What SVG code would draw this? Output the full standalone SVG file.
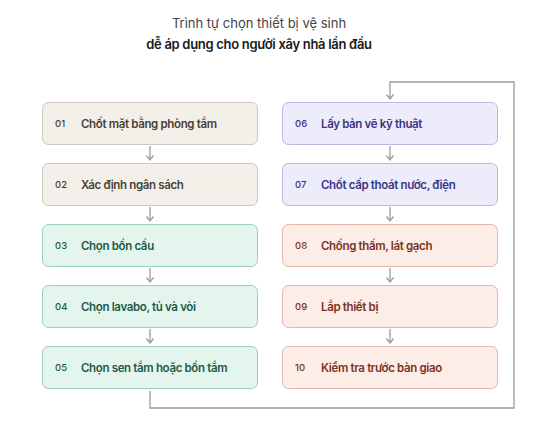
<svg xmlns="http://www.w3.org/2000/svg" width="537" height="425" viewBox="0 0 537 425">
<style>
  .t1{font-family:Inter,"Noto Sans",sans-serif;font-size:13px;fill:#444;text-anchor:middle;letter-spacing:0}
  .t2{font-family:Inter,"Noto Sans",sans-serif;font-size:13px;font-weight:600;fill:#1a1a1a;text-anchor:middle;letter-spacing:-0.3px}
  .num{font-family:Inter,"Noto Sans",sans-serif;font-size:9.5px;font-weight:500}
  .lbl{font-family:Inter,"Noto Sans",sans-serif;font-size:11.5px;font-weight:600;letter-spacing:-0.35px}
  .sand rect{fill:#f3f0ea;stroke:#cdc7bc}
  .sand text{fill:#4a4036}
  .mint rect{fill:#e4f5ee;stroke:#9dcfb8}
  .mint text{fill:#1d5a45}
  .lav rect{fill:#edecfb;stroke:#bab6e6}
  .lav text{fill:#3a3483}
  .peach rect{fill:#fcede7;stroke:#e2b8ab}
  .peach text{fill:#7a3324}
  .c{fill:none;stroke:#9a9a9a;stroke-width:1.3}
</style>
<defs>
  <path id="ah" d="M-3.5,-4.5 L0,0 L3.5,-4.5" fill="none" stroke="#9a9a9a" stroke-width="1.3"/>
</defs>
<rect width="537" height="425" fill="#ffffff"/>
<text class="t1" x="259" y="28">Trình tự chọn thiết bị vệ sinh</text>
<text class="t2" x="259" y="49">dễ áp dụng cho người xây nhà lần đầu</text>

<g id="connectors">
  <path class="c" d="M150,146 V160"/><use href="#ah" x="150" y="160"/>
  <path class="c" d="M150,207 V221"/><use href="#ah" x="150" y="221"/>
  <path class="c" d="M150,268 V282"/><use href="#ah" x="150" y="282"/>
  <path class="c" d="M150,329 V343"/><use href="#ah" x="150" y="343"/>
  <path class="c" d="M390,146 V160"/><use href="#ah" x="390" y="160"/>
  <path class="c" d="M390,207 V221"/><use href="#ah" x="390" y="221"/>
  <path class="c" d="M390,268 V282"/><use href="#ah" x="390" y="282"/>
  <path class="c" d="M390,329 V343"/><use href="#ah" x="390" y="343"/>
  <path class="c" d="M150,391 V408 H514 V82 H390 V99"/><use href="#ah" x="390" y="99"/>
</g>

<g id="n01" class="sand"><rect x="42.5" y="102.5" width="215" height="42" rx="6"/><text class="num" x="55" y="127">01</text><text class="lbl" x="81" y="127.5">Chốt mặt bằng phòng tắm</text></g>
<g id="n02" class="sand"><rect x="42.5" y="163.5" width="215" height="42" rx="6"/><text class="num" x="55" y="188">02</text><text class="lbl" x="81" y="188.5">Xác định ngân sách</text></g>
<g id="n03" class="mint"><rect x="42.5" y="224.5" width="215" height="42" rx="6"/><text class="num" x="55" y="249">03</text><text class="lbl" x="81" y="249.5">Chọn bồn cầu</text></g>
<g id="n04" class="mint"><rect x="42.5" y="285.5" width="215" height="42" rx="6"/><text class="num" x="55" y="310">04</text><text class="lbl" x="81" y="310.5">Chọn lavabo, tủ và vòi</text></g>
<g id="n05" class="mint"><rect x="42.5" y="346.5" width="215" height="42" rx="6"/><text class="num" x="55" y="371">05</text><text class="lbl" x="81" y="371.5">Chọn sen tắm hoặc bồn tắm</text></g>

<g id="n06" class="lav"><rect x="282.5" y="102.5" width="215" height="42" rx="6"/><text class="num" x="295" y="127">06</text><text class="lbl" x="321" y="127.5">Lấy bản vẽ kỹ thuật</text></g>
<g id="n07" class="lav"><rect x="282.5" y="163.5" width="215" height="42" rx="6"/><text class="num" x="295" y="188">07</text><text class="lbl" x="321" y="188.5">Chốt cấp thoát nước, điện</text></g>
<g id="n08" class="peach"><rect x="282.5" y="224.5" width="215" height="42" rx="6"/><text class="num" x="295" y="249">08</text><text class="lbl" x="321" y="249.5">Chống thấm, lát gạch</text></g>
<g id="n09" class="peach"><rect x="282.5" y="285.5" width="215" height="42" rx="6"/><text class="num" x="295" y="310">09</text><text class="lbl" x="321" y="310.5">Lắp thiết bị</text></g>
<g id="n10" class="peach"><rect x="282.5" y="346.5" width="215" height="42" rx="6"/><text class="num" x="295" y="371">10</text><text class="lbl" x="321" y="371.5">Kiểm tra trước bàn giao</text></g>
</svg>
